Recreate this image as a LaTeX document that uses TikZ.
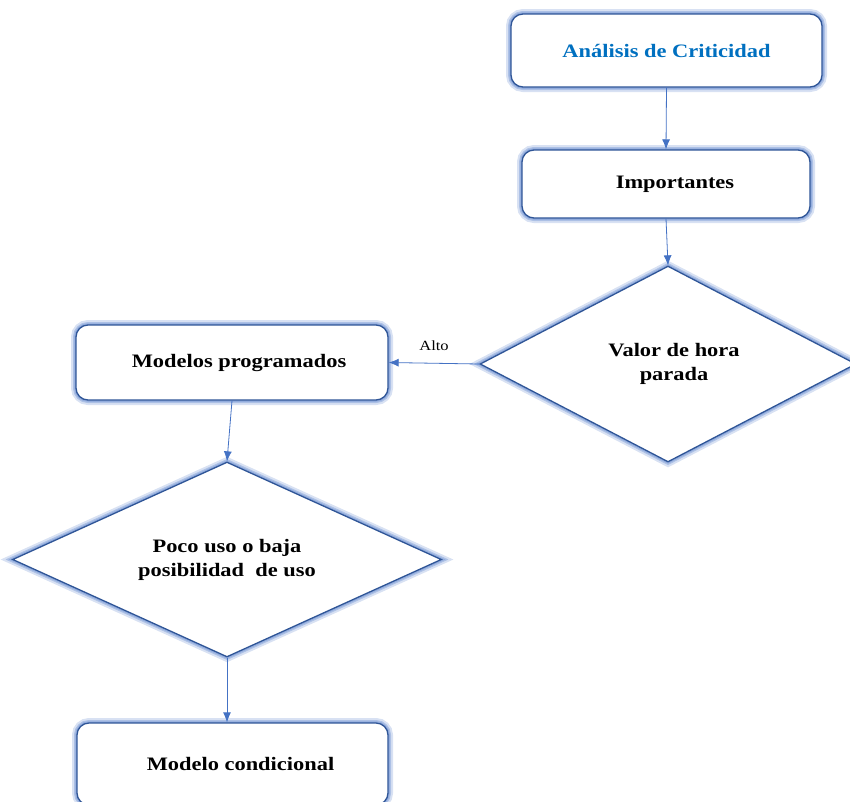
\documentclass[tikz,border=0pt]{standalone}
\usepackage{fontspec}
\setmainfont{Liberation Serif}[FakeStretch=1.18]
\usetikzlibrary{shapes.geometric,arrows.meta}
\definecolor{edge}{HTML}{2F5597}
\definecolor{glow}{HTML}{8FAADC}
\definecolor{link}{HTML}{4472C4}
\definecolor{title}{HTML}{0070C0}

\begin{document}
\begin{tikzpicture}[x=1pt,y=-1pt,
  glowing/.style={preaction={draw=glow,line width=10pt,opacity=0.35},
                  preaction={draw=glow,line width=6pt,opacity=0.6},
                  preaction={draw=glow,line width=3.5pt,opacity=0.9}},
  stepbox/.style={glowing,draw=edge,line width=1.3pt,fill=white,
                  rounded corners=12pt,inner sep=0pt,align=center,
                  font=\fontsize{19}{23}\selectfont\bfseries},
  decision/.style={glowing,diamond,aspect=2,draw=edge,line width=1.3pt,
                  fill=white,inner sep=0pt,align=center,
                  font=\fontsize{19}{24}\selectfont\bfseries},
  flow/.style={draw=link,line width=0.8pt,-{Latex[length=10pt,width=8pt]}},
  tag/.style={font=\fontsize{14}{16}\selectfont}]

\useasboundingbox (0,0) rectangle (850,801);

% process boxes and decisions
\node[stepbox,minimum width=311pt,minimum height=73pt,text=title] (crit) at (666.5,50.5) {Análisis de Criticidad};
\node[stepbox,minimum width=288pt,minimum height=68pt] (imp) at (666,184) {\hspace*{18pt}Importantes};
\node[decision,minimum width=376pt,minimum height=196pt] (valor) at (668,364) {\hspace*{12pt}Valor de hora\\\hspace*{12pt}parada};
\node[stepbox,minimum width=312pt,minimum height=75pt] (prog) at (232,362.5) {\hspace*{14pt}Modelos programados};
\node[decision,minimum width=429pt,minimum height=195pt] (poco) at (227,559.5) {Poco uso o baja\\posibilidad\ \ de uso};
\node[stepbox,minimum width=311pt,minimum height=82pt] (cond) at (232.5,764) {\hspace*{16pt}Modelo condicional};

% connectors
\draw[flow] (crit.south) -- (imp.north);
\draw[flow] (imp.south) -- (valor.north);
\draw[flow] (valor.west) -- node[tag,above=9pt] {Alto} (prog.east);
\draw[flow] (prog.south) -- (poco.north);
\draw[flow] (poco.south) -- (poco.south |- cond.north);
\end{tikzpicture}
\end{document}
